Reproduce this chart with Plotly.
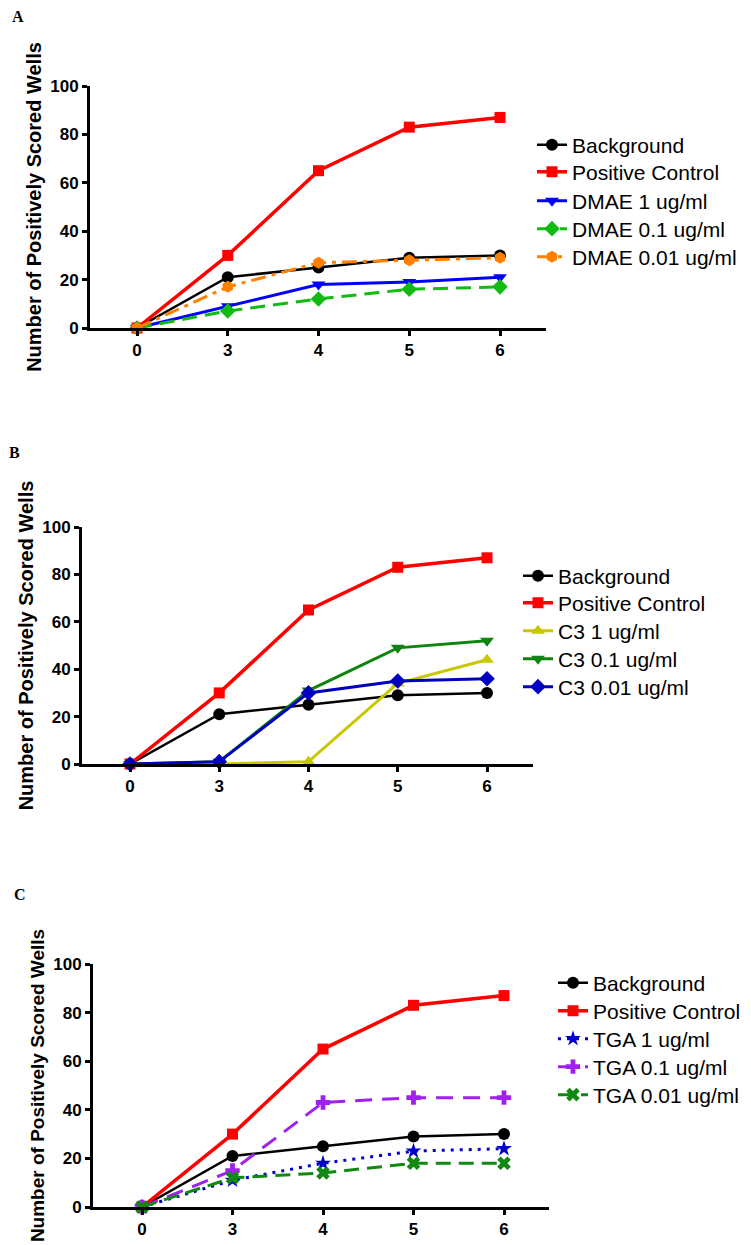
import plotly.graph_objects as go

W, H = 751, 1245
days = ["0", "3", "4", "5", "6"]
xi = [0, 1, 2, 3, 4]

background = [0, 21, 25, 29, 30]
positive = [0, 30, 65, 83, 87]

dmae_1 = [0, 9, 18, 19, 21]
dmae_01 = [0, 7, 12, 16, 17]
dmae_001 = [0, 17, 27, 28, 29]

c3_1 = [0, 0, 1, 34, 44]
c3_01 = [0, 1, 31, 49, 52]
c3_001 = [0, 1, 30, 35, 36]

tga_1 = [0, 11, 18, 23, 24]
tga_01 = [0, 15, 43, 45, 45]
tga_001 = [0, 12, 14, 18, 18]

FONT = "Liberation Sans, Arial, sans-serif"

panels = [
    # (suffix, series, x-pixel extent, y-pixel extent, x0 px, spacing, legend x px, legend item y px, title size)
    ("", [
        ("Background", background, "#000000", "circle", "solid", 2.5),
        ("Positive Control", positive, "#FF0000", "square", "solid", 3.5),
        ("DMAE 1 ug/ml", dmae_1, "#0000FF", "triangle-down", "solid", 3),
        ("DMAE 0.1 ug/ml", dmae_01, "#11BB11", "diamond", "15px,8px", 3),
        ("DMAE 0.01 ug/ml", dmae_001, "#FF8000", "hexagon", "15px,6px,4px,6px", 3),
    ], (90, 546), (86, 328), 137, 90.75, 532, [145, 172, 201, 229, 257], 20),
    ("2", [
        ("Background", background, "#000000", "circle", "solid", 2.5),
        ("Positive Control", positive, "#FF0000", "square", "solid", 3.5),
        ("C3 1 ug/ml", c3_1, "#C8C800", "triangle-up", "solid", 3),
        ("C3 0.1 ug/ml", c3_01, "#0F850F", "triangle-down", "solid", 3),
        ("C3 0.01 ug/ml", c3_001, "#0000C0", "diamond", "solid", 3),
    ], (82, 533), (527, 764), 130, 89.25, 518, [576, 603, 631, 659, 687], 20),
    ("3", [
        ("Background", background, "#000000", "circle", "solid", 2.5),
        ("Positive Control", positive, "#FF0000", "square", "solid", 3.5),
        ("TGA 1 ug/ml", tga_1, "#0000CC", "star", "3px,6px", 3),
        ("TGA 0.1 ug/ml", tga_01, "#A020F0", "cross", "17px,10px", 3),
        ("TGA 0.01 ug/ml", tga_001, "#118811", "x", "15px,8px", 3),
    ], (93, 549), (964, 1207), 142, 90.5, 553, [983, 1011, 1039, 1067, 1095], 19),
]

fig = go.Figure()
layout = {}
k = 0
for suf, series, (xl, xr), (yt, yb), x0, dx, lx, lys, tsize in panels:
    xa = "x" + suf
    ya = "y" + suf
    for (name, vals, col, sym, dash, lw), ly in zip(series, lys):
        k += 1
        leg = "legend" if k == 1 else "legend%d" % k
        fig.add_trace(go.Scatter(
            x=xi, y=vals, name=name, mode="lines+markers",
            xaxis=xa, yaxis=ya, legend=leg, cliponaxis=False,
            line=dict(color=col, width=lw, dash=dash),
            marker=dict(color=col, symbol=sym, size=11 if sym == "square" else 12,
                        line=dict(width=0)),
        ))
        layout[leg] = dict(
            x=lx / W, y=1 - ly / H, xanchor="left", yanchor="middle",
            font=dict(family=FONT, size=21, color="black"),
            bgcolor="rgba(0,0,0,0)", itemwidth=30,
        )
    layout["xaxis" + suf] = dict(
        domain=[xl / W, xr / W], anchor=ya, automargin=False,
        range=[(xl - x0) / dx, (xr - x0) / dx],
        tickmode="array", tickvals=xi, ticktext=days,
        showline=True, linecolor="black", linewidth=3,
        ticks="outside", ticklen=5, tickwidth=3, tickcolor="black",
        showgrid=False, zeroline=False,
        tickfont=dict(family=FONT, size=17, color="black", weight="bold"),
    )
    layout["yaxis" + suf] = dict(
        domain=[1 - yb / H, 1 - yt / H], anchor=xa, automargin=False,
        range=[0, 100], tickvals=[0, 20, 40, 60, 80, 100],
        showline=True, linecolor="black", linewidth=3,
        ticks="outside", ticklen=5, tickwidth=3, tickcolor="black",
        showgrid=False, zeroline=False,
        tickfont=dict(family=FONT, size=17, color="black", weight="bold"),
        title=dict(text="Number of Positively Scored Wells", standoff=4,
                   font=dict(family=FONT, size=tsize, color="black", weight="bold")),
    )

fig.update_layout(**layout)
for txt, px, py in [("A", 18, 16), ("B", 14, 452), ("C", 20, 894)]:
    fig.add_annotation(text="<b>" + txt + "</b>", x=px / W, y=1 - py / H,
                       xref="paper", yref="paper", showarrow=False,
                       xanchor="center", yanchor="middle",
                       font=dict(family="Liberation Serif, Times New Roman, serif", size=16, color="black"))

fig.update_layout(width=W, height=H, margin=dict(l=0, r=0, t=0, b=0),
                  paper_bgcolor="white", plot_bgcolor="white", showlegend=True)
fig.write_html("out.html")
